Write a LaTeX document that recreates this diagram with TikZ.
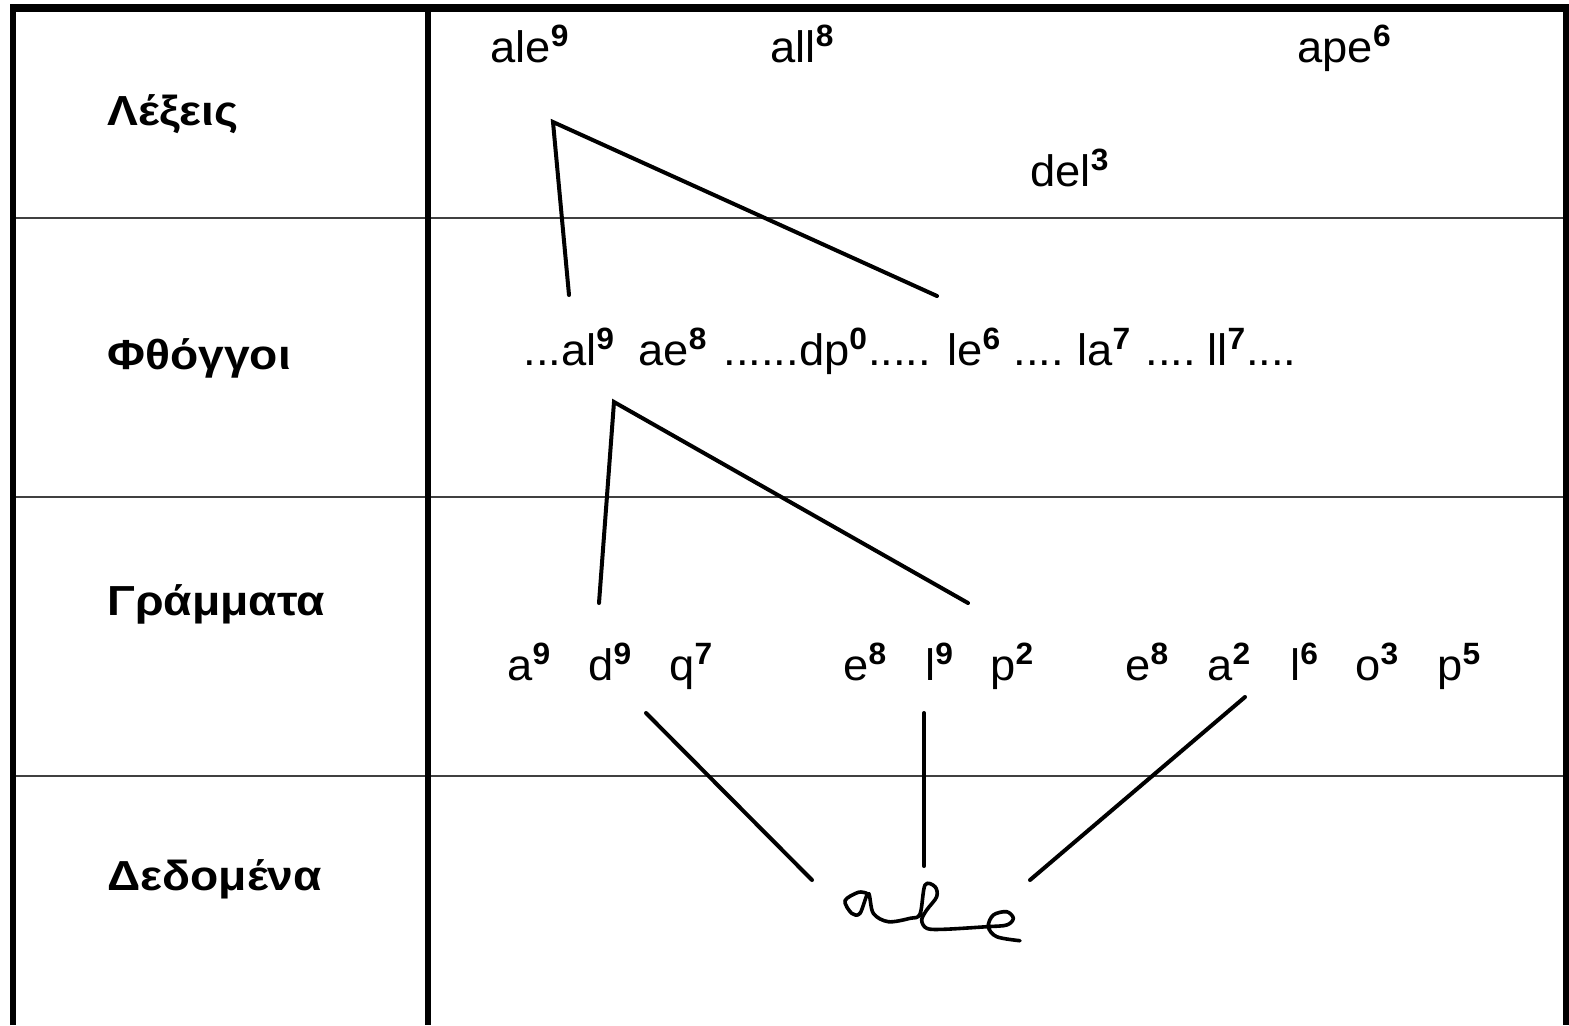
\documentclass[tikz,border=0pt]{standalone}
\usepackage{fontspec}
\setmainfont{Liberation Sans}
\newfontfamily\lblfont[FakeStretch=1.1]{Liberation Sans}
\newfontfamily\txtfont[FakeStretch=1.03]{Liberation Sans}
\newcommand\sups[1]{\textsuperscript{\bfseries #1}}
\begin{document}
\begin{tikzpicture}[x={(0.5pt,0)},y={(0,-0.5pt)},
  txt/.style={anchor=base west,inner sep=0pt,font=\txtfont\fontsize{22}{26}\selectfont},
  lbl/.style={anchor=west,inner sep=0pt,font=\lblfont\fontsize{21}{25}\selectfont\bfseries},
  link/.style={line width=2pt,line cap=round},
  rule/.style={line width=0.7pt,black!75}]
\useasboundingbox (0,0) rectangle (1569,1025);
% grid
\draw[rule] (13,218) -- (1566,218);
\draw[rule] (13,497) -- (1566,497);
\draw[rule] (13,776) -- (1566,776);
\draw[line width=2.6pt] (428,12) -- (428,1025);
\draw[line width=3pt] (13,1025) -- (13,8) -- (1565.5,8) -- (1565.5,1025);
\draw[line width=4pt] (10,8) -- (1569,8);
% left labels
\node[lbl] (l1) at (107,114) {Λέξεις};
\node[lbl] (l2) at (107,358) {Φθόγγοι};
\node[lbl] (l3) at (107,604) {Γράμματα};
\node[lbl] (l4) at (107,879) {Δεδομένα};
% words
\node[txt] (w1) at (490,62) {ale\sups{9}};
\node[txt] (w2) at (770,62) {all\sups{8}};
\node[txt] (w3) at (1297,62) {ape\sups{6}};
\node[txt] (w4) at (1030,186) {del\sups{3}};
% phthongoi
\node[txt] (p1) at (523,365) {...al\sups{9}};
\node[txt] (p2) at (638,365) {ae\sups{8}};
\node[txt] (p3) at (723,365) {......dp\sups{0}.....};
\node[txt] (p4) at (947,365) {le\sups{6}};
\node[txt] (p5) at (1013,365) {....};
\node[txt] (p6) at (1077,365) {la\sups{7}};
\node[txt] (p7) at (1145,365) {....};
\node[txt] (p8) at (1207,365) {ll\sups{7}....};
% letters
\node[txt] (g1) at (507,680) {a\sups{9}};
\node[txt] (g2) at (588,680) {d\sups{9}};
\node[txt] (g3) at (669,680) {q\sups{7}};
\node[txt] (g4) at (843,680) {e\sups{8}};
\node[txt] (g5) at (925,680) {l\sups{9}};
\node[txt] (g6) at (990,680) {p\sups{2}};
\node[txt] (g7) at (1125,680) {e\sups{8}};
\node[txt] (g8) at (1207,680) {a\sups{2}};
\node[txt] (g9) at (1290,680) {l\sups{6}};
\node[txt] (g10) at (1355,680) {o\sups{3}};
\node[txt] (g11) at (1437,680) {p\sups{5}};
% connector coordinates
\coordinate (a1) at (553,122);
\coordinate (a2) at (569,295);
\coordinate (a3) at (937,296);
\coordinate (b1) at (614,402);
\coordinate (b2) at (599,603);
\coordinate (b3) at (968,603);
\coordinate (c1) at (646,713);
\coordinate (c2) at (812,880);
\coordinate (c3) at (924,713);
\coordinate (c4) at (924,866);
\coordinate (c5) at (1245,697);
\coordinate (c6) at (1030,880);
\draw[link] (a2) -- (a1) -- (a3);
\draw[link] (b2) -- (b1) -- (b3);
\draw[link] (c1) -- (c2);
\draw[link] (c3) -- (c4);
\draw[link] (c5) -- (c6);
% handwriting
\draw[line width=1.8pt,line cap=round,line join=round] plot[smooth,tension=0.55] coordinates {
(866.7,893.3) (858.3,892.3) (845,900.7) (851.7,913.3) (860,913.3) (868.3,893.3)
(873.3,913.3) (888.3,921.7) (910,918.3) (920,914) (925,885) (935,886.7)
(936.7,896.7) (926.7,910) (921.7,920) (926.7,928.3) (943.3,929.3) (986.7,926.7)
(1006.7,925) (1013.3,918.3) (1006.7,911.7) (993.3,915) (988.3,926.7) (996.7,936.7) (1020,940.7)};
\end{tikzpicture}
\end{document}
